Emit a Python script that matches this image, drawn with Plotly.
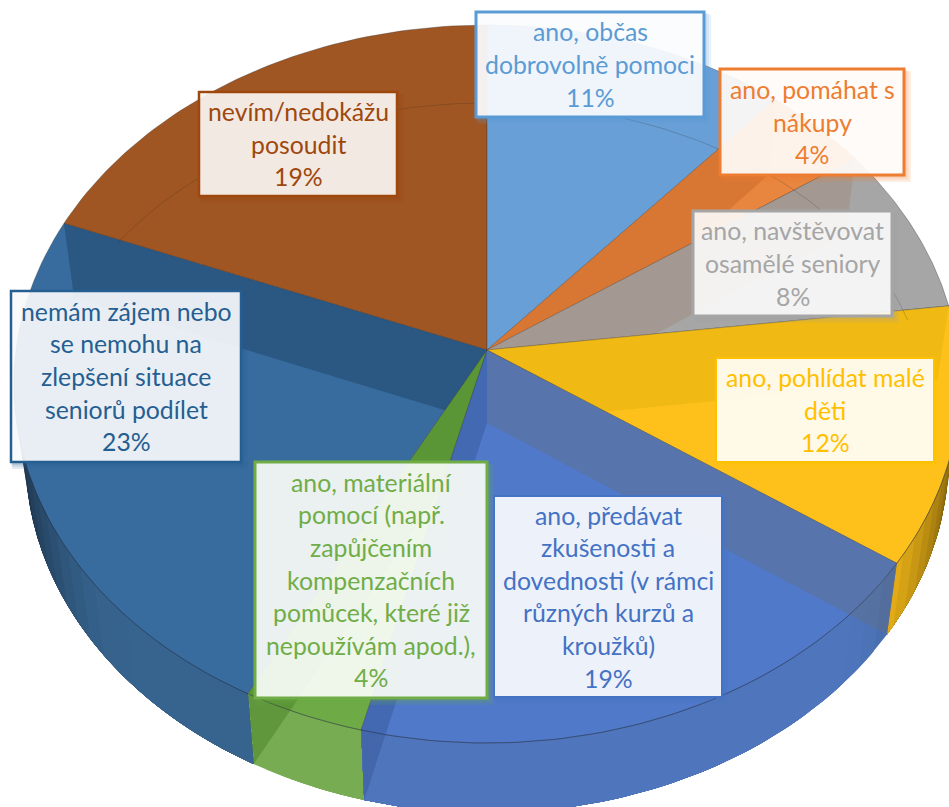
import numpy as np
import plotly.graph_objects as go

# hodnoty v procentech, po smeru hodin od 12 hodin
kategorie = [
    "ano, občas<br>dobrovolně pomoci",
    "ano, pomáhat s<br>nákupy",
    "ano, navštěvovat<br>osamělé seniory",
    "ano, pohlídat malé<br>děti",
    "ano, předávat<br>zkušenosti a<br>dovednosti (v rámci<br>různých kurzů a<br>kroužků)",
    "ano, materiální<br>pomocí (např.<br>zapůjčením<br>kompenzačních<br>pomůcek, které již<br>nepoužívám apod.),",
    "nemám zájem nebo<br>se nemohu na<br>zlepšení situace<br>seniorů podílet",
    "nevím/nedokážu<br>posoudit",
]
hodnoty = [11.4, 4.0, 7.6, 11.6, 19.3, 3.8, 23.3, 19.0]

barvy = ["#5B9BD5", "#ED7D31", "#A5A5A5", "#FFC000", "#4472C4", "#70AD47", "#255E91", "#9E480E"]
barvy_vrch = ["#689FD6", "#E8853E", "#A6A6A6", "#FEC11C", "#5079C9", "#6EAB47", "#386C9E", "#A05622"]
barvy_bok = ["#5B8FC4", "#D9762F", "#999999", "#F4B818", "#4F76BC", "#78AC52", "#37648F", "#8A4A1C"]
# pruhledne vnitrni steny (zacatek, konec vysece)
steny_zacatek = [None, "rgba(200,105,40,0.5)", "rgba(160,140,125,0.5)", "rgba(210,170,0,0.3)",
                 "rgba(100,110,120,0.35)", None, None, None]
steny_konec = [None, None, None, None, "rgba(40,70,130,0.3)", "rgba(60,120,30,0.4)",
               "rgba(20,50,80,0.35)", None]
# poradi vykreslovani, aby dalsi vysec prekryla pretekajici stenu
poradi = [7, 6, 5, 0, 1, 2, 3, 4]

# popisky: levy, horni, pravy, dolni okraj a sila ramecku
ramecky = [
    (476, 12, 704, 117, 3), (720, 69, 904, 175, 3), (693, 211, 892, 316, 3), (716, 358, 934, 462, 2),
    (494, 496, 722, 697, 2), (255, 462, 487, 698, 3), (11, 291, 241, 462, 2.5), (199, 92, 397, 196, 2.5),
]
vyplne = [0.9, 0.9, 0.87, 0.9, 0.9, 0.89, 0.89, 0.88]

CX, CY = 487, 350
A, B, K = 470.9, 355.8, 0.0947
HLOUBKA, ZUZENI, ZUZENI_Y = 73, 0.976, 0.992
PISMO = "Lato"
VELIKOST = 24.8
RADEK = 32.6


def bod(theta, spodni=False):
    u, v = np.sin(theta), np.cos(theta)
    w = 1 + K * v
    sx = ZUZENI if spodni else 1
    sy = ZUZENI_Y if spodni else 1
    d = HLOUBKA if spodni else 0
    return CX + sx * A * u / w, CY + d - sy * B * v / w


def plocha(fig, xs, ys, barva, cara=None):
    fig.add_trace(go.Scatter(
        x=xs, y=ys, mode="lines", fill="toself", fillcolor=barva,
        line=dict(color=cara or "rgba(0,0,0,0)", width=0.8),
        hoverinfo="skip", showlegend=False,
    ))


def ztmav(barva, f):
    r, g, b = [int(barva[i:i + 2], 16) for i in (1, 3, 5)]
    return f"rgb({int(r * f)},{int(g * f)},{int(b * f)})"


def stena(fig, theta, barva):
    x1, y1 = bod(theta)
    x2, y2 = bod(theta, True)
    plocha(fig, [CX, x1, x2, CX, CX], [CY, y1, y2, CY + HLOUBKA, CY], barva)


fig = go.Figure()
hranice = np.radians(np.concatenate([[0], np.cumsum(hodnoty)]) * 3.6)

for i in poradi:
    t0, t1 = hranice[i], hranice[i + 1]

    # vnejsi plast po kratkych usecich kvuli stinovani, useky se prekryvaji at nejsou videt svary
    a0, a1 = max(t0, np.radians(84)), min(t1, np.radians(276))
    if a1 > a0:
        kroky = np.arange(a0, a1 + 1e-6, np.radians(3))
        kroky = np.append(kroky, a1)
        for p in kroky[:-1][::-1] if a0 > np.pi else kroky[:-1]:
            sv = abs(np.sin(p + np.radians(1.5)))
            f = 1 - 0.55 * max(0, (sv - 0.72) / 0.28) ** 2
            # segment siroky az ke konci plaste, dalsi ho prekresli
            if a0 > np.pi:
                uhly = np.linspace(a0, p + np.radians(3), 12)
                uhly = uhly[uhly <= a1 + 1e-6]
            else:
                uhly = np.linspace(p, a1, max(2, int((a1 - p) / np.radians(2)) + 2))
            xa, ya = bod(uhly)
            xb, yb = bod(uhly[::-1], True)
            plocha(fig, [*xa, *xb, xa[0]], [*ya, *yb, ya[0]], ztmav(barvy_bok[i], f))

    # horni plocha vysece
    uhly = np.linspace(t0, t1, 60)
    xs, ys = bod(uhly)
    plocha(fig, [CX, *xs, CX], [CY, *ys, CY], barvy_vrch[i], "rgba(50,50,50,0.45)")

    if steny_zacatek[i]:
        stena(fig, t0, steny_zacatek[i])
    if steny_konec[i]:
        stena(fig, t1, steny_konec[i])

# zadni hrana dna prosvitajici vrchem
ta = np.linspace(np.radians(-57), np.radians(73), 120)
fig.add_trace(go.Scatter(
    x=CX + 440 * np.sin(ta), y=410 - 307 * np.cos(ta), mode="lines",
    line=dict(color="rgba(40,40,40,0.22)", width=1), hoverinfo="skip", showlegend=False,
))

# predni hrana vrchu
tb = np.linspace(np.radians(84), np.radians(276), 200)
xr, yr = bod(tb)
fig.add_trace(go.Scatter(
    x=xr, y=yr, mode="lines", line=dict(color="rgba(30,40,70,0.32)", width=1),
    hoverinfo="skip", showlegend=False,
))

tvary = []
for i, (x0, y0, x1, y1, sila) in enumerate(ramecky):
    r, g, b = [int(barvy[i][j:j + 2], 16) for j in (1, 3, 5)]
    for o in (7, 5, 3):
        tvary.append(dict(type="rect", xref="x", yref="y", x0=x0 - 1 + o / 3, y0=y0 + o / 3, x1=x1 + o, y1=y1 + o,
                          fillcolor=f"rgba({r},{g},{b},0.13)", line=dict(width=0), layer="above"))
    tvary.append(dict(type="rect", xref="x", yref="y", x0=x0, y0=y0, x1=x1, y1=y1,
                      fillcolor=f"rgba(255,255,255,{vyplne[i]})", line=dict(color=barvy[i], width=sila), layer="above"))

popisky = []
for i, (x0, y0, x1, y1, sila) in enumerate(ramecky):
    radky = kategorie[i].split("<br>") + [f"{round(hodnoty[i])}%"]
    stred = (y0 + y1) / 2
    for n, radek in enumerate(radky):
        popisky.append(dict(
            x=(x0 + x1) / 2, y=stred + (n - (len(radky) - 1) / 2) * RADEK, text=radek,
            xref="x", yref="y", showarrow=False, xanchor="center", yanchor="middle",
            font=dict(family=PISMO, size=VELIKOST, color=barvy[i]),
        ))

fig.update_layout(
    width=949, height=807, margin=dict(l=0, r=0, t=0, b=0),
    paper_bgcolor="white", plot_bgcolor="white", shapes=tvary, annotations=popisky,
    xaxis=dict(range=[0, 949], visible=False, fixedrange=True),
    yaxis=dict(range=[807, 0], visible=False, fixedrange=True),
)

fig.write_html("out.html", config=dict(displayModeBar=False),
               post_script="document.body.style.margin='0';document.body.style.overflow='hidden';")
